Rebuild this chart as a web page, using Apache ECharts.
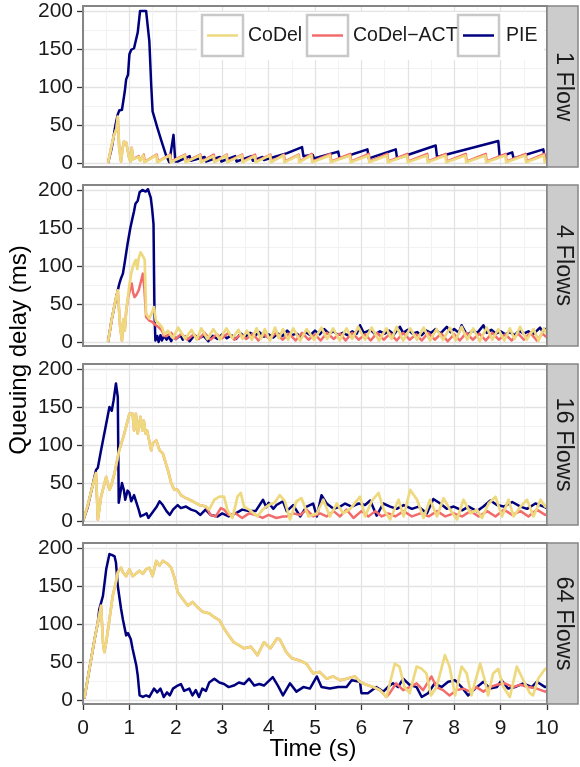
<!DOCTYPE html>
<html>
<head>
<meta charset="utf-8">
<script src="https://cdn.jsdelivr.net/npm/echarts@6/dist/echarts.min.js"></script>
<style>
  html, body { margin: 0; padding: 0; background: #fff; }
  #chart { width: 580px; height: 767px; }
</style>
</head>
<body>
<div id="chart"></div>
<script>
// queuing delay (ms) over time (s): [t, delay]
var facetLabels = ['1 Flow', '4 Flows', '16 Flows', '64 Flows'];
var yTicks = [0, 50, 100, 150, 200];
var xTicks = [0, 1, 2, 3, 4, 5, 6, 7, 8, 9, 10];

// --- 1 flow
var pie1 = [[0.54,0],[0.62,20],[0.7,50],[0.75,64],[0.78,69],[0.84,70],[0.9,94],[0.93,110],[0.97,116],[1.0,143],[1.04,149],[1.1,151],[1.13,151],[1.18,172],[1.23,200],[1.3,200],[1.36,200],[1.4,200],[1.43,160],[1.47,103],[1.5,68],[1.6,47],[1.7,27],[1.79,10],[1.86,1],[1.9,3],[1.95,37],[1.99,2],
  [2.05,2],[2.3,9],[2.32,3],[2.62,8],[2.65,2],[2.95,8],[2.98,2],[3.28,9],[3.31,2],[3.63,9],[3.66,3],[3.87,8],[3.9,4],[4.4,13],[4.72,21],[4.75,9],[4.95,11],[4.98,6],
  [5.5,15],[5.53,6],[6.13,18],[6.16,6],[6.74,18],[6.77,6],[7.6,23],[7.63,8],[8.95,29],[8.98,8],[9.25,14],[9.28,6],[9.92,18],[9.95,7],[10,7]];
var codel1 = [[0.54,0],[0.6,18],[0.66,35],[0.72,45],[0.75,61],[0.78,20],[0.82,2],[0.85,18],[0.88,28],[0.93,27],[0.97,26],[1.0,5],[1.03,2],[1.05,20],[1.08,5],[1.12,3],[1.2,8],[1.23,3],[1.3,10],
  [1.32,1],[1.58,10],[1.6,1],[1.87,10],[1.89,1],[2.19,10],[2.21,1],[2.52,10],[2.54,1],[2.81,9],[2.83,1],[3.09,10],[3.11,1],[3.42,10],[3.44,1],[3.7,9],[3.72,1],[4.03,10],[4.05,1],[4.32,10],[4.34,1],[4.64,10],[4.66,1],
  [4.92,10],[4.94,1],[5.32,10],[5.34,1],[5.75,10],[5.77,1],[6.15,10],[6.17,1],[6.55,10],[6.57,1],[6.98,10],[7.0,1],[7.41,10],[7.43,1],[7.81,10],[7.83,1],[8.24,10],[8.26,1],[8.67,10],[8.69,1],[9.1,10],[9.12,1],[9.53,10],[9.55,1],[9.93,10],[9.95,1],[10,2]];
var act1 = [[0.54,0],[0.6,18],[0.66,35],[0.72,45],[0.75,61],[0.78,20],[0.82,2],[0.85,18],[0.88,28],[0.93,27],[0.97,26],[1.0,5],[1.03,2],[1.05,20],[1.08,5],[1.12,3],[1.2,9],[1.23,3],[1.31,11],
  [1.33,2],[1.59,11],[1.61,2],[1.88,11],[1.9,2],[2.2,11],[2.22,2],[2.53,11],[2.55,2],[2.82,11],[2.84,2],[3.1,11],[3.12,2],[3.43,11],[3.45,2],[3.71,11],[3.73,2],[4.04,11],[4.06,2],[4.33,11],[4.35,2],[4.65,11],[4.67,2],
  [4.93,12],[4.95,2],[5.33,12],[5.35,2],[5.76,12],[5.78,2],[6.16,12],[6.18,2],[6.56,12],[6.58,2],[6.99,12],[7.01,2],[7.42,12],[7.44,2],[7.82,12],[7.84,2],[8.25,12],[8.27,2],[8.68,12],[8.7,2],[9.11,12],[9.13,2],[9.54,12],[9.56,2],[9.94,12],[9.96,2],[10,3]];

// --- 4 flows
var pie2 = [[0.54,0],[0.62,30],[0.72,60],[0.78,76],[0.82,84],[0.86,90],[0.9,105],[0.96,129],[1.02,150],[1.07,164],[1.1,172],[1.13,182],[1.18,186],[1.22,197],[1.28,200],[1.35,198],[1.4,201],[1.43,200],[1.46,190],[1.49,175],[1.52,155],[1.54,40],[1.56,2],
  [1.6,8],[1.63,0],[1.67,9],[1.7,2],[1.75,8],[1.8,3],[1.85,7],[1.9,1],[1.95,8],[2.0,4],[2.1,9],[2.15,3],[2.2,7],[2.3,1],[2.4,9],[2.5,5],[2.6,8],[2.7,1],[2.8,8],[2.9,4],[3.0,10],[3.1,5],[3.2,9],[3.3,4],[3.4,11],[3.5,7],[3.6,12],[3.7,8],[3.8,13],[3.9,7],[4.0,10],[4.1,6],[4.2,11],[4.3,8],[4.4,15],[4.5,9],[4.6,11],[4.7,7],[4.8,13],[4.9,9],
  [5.0,15],[5.1,10],[5.2,17],[5.3,11],[5.4,14],[5.5,9],[5.6,12],[5.7,9],[5.8,14],[5.9,11],[5.97,22],[6.05,12],[6.2,16],[6.3,10],[6.4,14],[6.5,11],[6.6,15],[6.7,10],[6.83,20],[6.9,12],[7.0,16],[7.1,11],[7.2,13],[7.3,9],[7.4,15],[7.5,12],[7.6,17],[7.7,11],[7.84,20],[7.92,13],[8.0,17],[8.1,12],[8.16,22],[8.25,12],[8.3,10],[8.4,15],[8.5,12],[8.63,22],[8.7,12],[8.8,16],[8.9,11],[9.0,14],[9.1,10],[9.2,13],[9.3,9],[9.4,15],[9.5,11],[9.6,14],[9.7,10],[9.85,19],[9.9,14],[10,18]];
var codel2 = [[0.54,0],[0.62,30],[0.7,55],[0.75,68],[0.8,20],[0.84,2],[0.87,30],[0.9,15],[0.93,40],[0.97,60],[1.0,75],[1.04,90],[1.08,100],[1.11,105],[1.14,108],[1.17,96],[1.2,110],[1.24,118],[1.27,120],[1.3,112],[1.33,108],[1.36,37],[1.43,31],[1.48,38],[1.53,46],[1.57,28],[1.64,24],[1.7,20],[1.75,10],
  [1.83,15],[1.94,5],[2.05,19],[2.2,4],[2.34,16],[2.45,3],[2.55,18],[2.68,4],[2.81,17],[2.95,3],[3.09,18],[3.22,5],[3.35,16],[3.44,4],[3.53,15],[3.64,3],[3.74,18],[3.83,4],[3.92,17],[4.03,2],[4.14,19],[4.22,5],[4.31,17],[4.42,3],[4.53,18],[4.68,2],[4.82,17],[4.98,3],
  [5.14,19],[5.26,4],[5.39,18],[5.53,2],[5.68,18],[5.8,4],[5.93,20],[6.08,3],[6.22,19],[6.38,2],[6.54,18],[6.65,4],[6.76,20],[6.9,2],[7.05,18],[7.2,3],[7.34,19],[7.48,2],[7.62,17],[7.76,3],[7.91,19],[8.03,2],[8.16,20],[8.28,3],[8.41,18],[8.55,1],[8.7,19],[8.82,3],[8.95,17],[9.08,2],[9.2,18],[9.3,4],[9.42,20],[9.56,3],[9.71,17],[9.82,2],[9.93,18],[10,10]];
var act2 = [[0.54,0],[0.62,30],[0.7,55],[0.75,68],[0.8,20],[0.84,2],[0.87,30],[0.9,15],[0.93,40],[0.97,58],[1.02,70],[1.05,77],[1.08,65],[1.11,59],[1.15,62],[1.2,68],[1.25,80],[1.29,90],[1.32,72],[1.36,33],[1.43,28],[1.5,26],[1.57,22],[1.64,19],[1.7,15],[1.75,8],
  [1.8,8],[1.9,12],[2.0,4],[2.12,11],[2.25,3],[2.38,10],[2.5,4],[2.62,12],[2.75,3],[2.88,10],[3.0,5],[3.13,12],[3.26,3],[3.4,10],[3.52,4],[3.66,11],[3.78,2],[3.9,10],[4.02,4],[4.16,12],[4.3,3],[4.44,11],[4.58,2],[4.72,12],[4.86,3],[5.0,10],[5.12,2],[5.26,12],[5.4,4],[5.54,11],[5.66,2],[5.8,12],[5.94,3],
  [6.08,10],[6.2,2],[6.34,12],[6.48,3],[6.62,11],[6.76,2],[6.9,12],[7.04,3],[7.18,10],[7.3,2],[7.44,12],[7.58,3],[7.72,11],[7.86,1],[8.0,10],[8.12,2],[8.26,12],[8.4,3],[8.54,11],[8.68,2],[8.82,12],[8.96,3],[9.1,10],[9.24,2],[9.38,11],[9.5,3],[9.64,12],[9.78,2],[9.9,11],[10,6]];

// --- 16 flows
var pie3 = [[0.0,0],[0.1,18],[0.2,45],[0.28,67],[0.32,70],[0.38,90],[0.43,106],[0.5,128],[0.57,150],[0.62,145],[0.66,159],[0.71,181],[0.75,163],[0.77,24],[0.8,35],[0.84,50],[0.88,41],[0.91,28],[0.96,40],[1.0,37],[1.04,26],[1.07,28],[1.1,34],[1.14,32],[1.2,15],[1.24,6],[1.31,8],[1.37,10],[1.41,4],[1.45,6],[1.52,13],[1.58,18],[1.65,26],[1.72,21],[1.8,13],[1.87,8],[1.94,15],[2.04,21],[2.11,17],[2.22,19],[2.33,15],[2.43,13],[2.53,8],[2.64,15],[2.75,8],[2.9,6],[3.0,10],[3.14,6],[3.29,10],[3.43,15],[3.58,13],[3.72,13],[3.88,28],[3.95,18],[4.0,24],[4.1,16],[4.17,21],[4.31,26],
  [4.39,13],[4.53,21],[4.68,6],[4.82,19],[4.96,23],[5.04,6],[5.14,34],[5.25,23],[5.4,16],[5.54,19],[5.65,23],[5.79,19],[5.94,23],[6.08,21],[6.19,27],[6.33,7],[6.47,23],[6.62,19],[6.76,16],[6.91,21],[7.09,16],[7.23,19],[7.41,10],[7.55,29],[7.7,23],[7.84,16],[7.99,19],[8.17,14],[8.31,19],[8.49,13],[8.63,19],[8.78,27],[8.92,21],[9.07,19],[9.25,25],[9.43,19],[9.57,16],[9.75,23],[9.93,19],[10,17]];
var codel3 = [[0.0,0],[0.1,20],[0.2,45],[0.28,63],[0.32,2],[0.39,32],[0.5,58],[0.53,50],[0.57,41],[0.6,45],[0.68,63],[0.78,93],[0.89,115],[1.0,141],[1.07,141],[1.1,119],[1.14,141],[1.18,115],[1.24,137],[1.28,119],[1.31,132],[1.35,115],[1.38,119],[1.47,93],[1.5,102],[1.58,106],[1.65,93],[1.72,89],[1.83,67],[1.9,50],[1.97,41],[2.04,41],[2.11,34],[2.22,30],[2.36,26],[2.51,21],[2.65,19],[2.72,15],
  [2.83,28],[2.94,32],[3.04,32],[3.11,15],[3.22,4],[3.33,32],[3.4,37],[3.47,19],[3.58,15],[3.76,6],[3.87,15],[4.0,21],[4.13,24],[4.24,34],[4.35,26],[4.46,2],[4.6,26],[4.71,30],[4.86,6],[5.04,10],[5.18,28],[5.32,6],[5.47,23],[5.61,10],[5.76,16],[5.97,32],[6.08,6],[6.22,26],[6.37,37],[6.48,15],[6.62,2],[6.8,28],[6.91,6],
  [7.05,41],[7.2,28],[7.34,4],[7.48,28],[7.63,6],[7.77,30],[7.91,15],[8.06,2],[8.2,28],[8.35,10],[8.49,15],[8.6,4],[8.74,23],[8.89,32],[9.03,6],[9.17,28],[9.28,6],[9.43,19],[9.57,28],[9.71,6],[9.86,28],[9.96,19],[10,22]];
var act3 = [[0.0,0],[0.1,20],[0.2,45],[0.28,63],[0.32,2],[0.39,32],[0.5,58],[0.53,50],[0.57,41],[0.6,45],[0.68,63],[0.78,93],[0.89,115],[1.0,141],[1.07,141],[1.1,119],[1.14,141],[1.18,115],[1.24,137],[1.28,119],[1.31,132],[1.35,115],[1.38,119],[1.47,93],[1.5,102],[1.58,106],[1.65,93],[1.72,89],[1.83,67],[1.9,50],[1.97,41],[2.04,41],[2.11,34],[2.22,30],[2.36,26],[2.51,21],[2.65,19],
  [2.75,8],[2.86,6],[2.97,17],[3.04,15],[3.14,8],[3.29,10],[3.43,4],[3.58,10],[3.72,8],[3.87,4],[4.0,8],[4.17,4],[4.31,6],[4.39,6],[4.53,10],[4.68,8],[4.82,15],[4.96,6],[5.11,10],[5.25,6],[5.4,13],[5.54,6],[5.68,15],[5.83,4],[6.0,13],[6.15,6],[6.3,13],[6.44,6],[6.58,10],[6.73,6],[6.91,13],
  [7.09,6],[7.27,10],[7.45,6],[7.63,13],[7.81,6],[7.99,10],[8.17,6],[8.35,13],[8.53,6],[8.71,13],[8.89,6],[9.07,15],[9.25,8],[9.43,13],[9.6,6],[9.78,15],[9.96,8],[10,9]];

// --- 64 flows
var pie4 = [[0.03,2],[0.15,45],[0.25,80],[0.32,102],[0.35,119],[0.43,137],[0.5,172],[0.57,192],[0.62,191],[0.68,189],[0.71,181],[0.75,150],[0.82,120],[0.86,106],[0.93,85],[0.97,88],[1.0,87],[1.03,80],[1.07,67],[1.15,45],[1.18,32],[1.22,6],[1.29,4],[1.36,6],[1.43,4],[1.53,15],[1.6,10],[1.67,15],[1.74,4],[1.81,10],[1.87,6],[1.94,15],[2.04,19],[2.11,21],[2.18,12],[2.29,15],[2.36,6],[2.43,13],[2.5,4],[2.57,15],[2.65,12],[2.72,23],[2.83,28],[2.94,23],[3.04,21],[3.14,17],[3.25,19],[3.36,23],[3.47,21],[3.58,28],[3.69,19],[3.8,21],[3.9,19],[4.09,30],[4.2,19],[4.31,6],
  [4.46,22],[4.6,11],[4.75,17],[4.89,15],[5.04,31],[5.14,17],[5.32,15],[5.5,17],[5.68,17],[5.79,26],[5.97,24],[6.0,9],[6.14,9],[6.32,17],[6.47,11],[6.57,17],[6.68,22],[6.79,17],[6.9,28],[7.04,20],[7.19,17],[7.3,4],[7.44,9],[7.58,22],[7.73,17],[7.87,24],[8.02,26],[8.16,17],[8.3,6],[8.45,15],[8.63,24],[8.77,15],[8.92,17],[9.02,26],[9.16,15],[9.31,17],[9.49,22],[9.67,17],[9.78,24],[9.96,17],[10,18]];
var codel4 = [[0.03,2],[0.15,45],[0.25,80],[0.32,102],[0.39,124],[0.43,76],[0.46,63],[0.5,76],[0.57,106],[0.64,137],[0.71,155],[0.75,168],[0.82,174],[0.86,168],[0.93,163],[1.0,172],[1.07,163],[1.14,166],[1.22,170],[1.29,166],[1.36,172],[1.43,174],[1.5,163],[1.58,183],[1.65,177],[1.72,183],[1.83,179],[1.9,174],[1.98,159],[2.04,142],[2.15,133],[2.26,124],[2.36,129],[2.47,122],[2.58,116],[2.72,114],[2.83,109],[2.94,105],[3.04,94],[3.14,85],[3.25,76],[3.36,72],[3.47,68],[3.62,70],[3.76,59],[3.9,76],[4.04,68],[4.18,81],[4.24,80],[4.38,63],[4.5,55],[4.67,52],[4.81,48],[4.96,35],[5.1,37],[5.25,28],[5.39,31],[5.54,26],[5.68,28],[5.86,31],[5.97,24],[6.11,20],[6.26,17],[6.4,13],[6.54,4],
  [6.72,48],[6.82,44],[6.93,17],[7.04,9],[7.19,44],[7.3,41],[7.4,35],[7.5,6],[7.62,17],[7.8,59],[7.9,44],[8.02,6],[8.16,44],[8.27,35],[8.37,6],[8.56,48],[8.66,26],[8.73,6],[8.84,35],[8.95,41],[9.06,17],[9.2,4],[9.35,44],[9.49,26],[9.63,9],[9.7,6],[9.81,28],[9.96,41],[10,40]];
var act4tail = [[6.61,9],[6.75,22],[6.9,13],[7.04,17],[7.19,22],[7.33,13],[7.51,31],[7.62,17],[7.76,13],[7.9,6],[8.05,13],[8.2,15],[8.34,11],[8.48,17],[8.63,11],[8.77,17],[8.92,20],[9.09,22],[9.27,17],[9.42,20],[9.6,17],[9.78,15],[9.96,11],[10,12]];
var act4 = codel4.filter(function (p) { return p[0] <= 6.54; })
    .map(function (p) { return [p[0], p[1]]; })
    .concat(act4tail);

var seriesNames = ['CoDel', 'CoDel\u2212ACT', 'PIE'];
var seriesColors = ['#EED97F', '#F36C6C', '#00007F'];
var seriesWidths = [2.7, 2.5, 2.5];

var facetData = [
  [codel1, act1, pie1],
  [codel2, act2, pie2],
  [codel3, act3, pie3],
  [codel4, act4, pie4]
];

var FONT = '"Liberation Sans", Arial, sans-serif';
var panelTop = [6, 185, 364, 543];
var panelH = 161, panelL = 83, panelW = 464;

function majorLine() { return { color: '#E3E3E3', width: 1.3 }; }
function minorLine() { return { color: '#F2F2F2', width: 1 }; }

var myChart = echarts.init(document.getElementById('chart'));

var grids = [], xAxes = [], yAxes = [], series = [], graphics = [];

for (var p = 0; p < 4; p++) {
    var pTop = panelTop[p];
    var isBottom = (p === 3);
    // outer grid: full panel, vertical grid lines + x axis
    grids.push({ left: panelL, top: pTop, width: panelW, height: panelH });
    // inner grid: the 0..200 band, horizontal grid lines + y axis
    grids.push({ left: panelL, top: pTop + 5, width: panelW, height: 152 });

    xAxes.push({
        gridIndex: 2 * p, type: 'value', min: xTicks[0], max: xTicks[xTicks.length - 1], interval: 1,
        axisLine: { show: false },
        axisTick: { show: isBottom, length: 6, lineStyle: { color: '#333', width: 1.3 } },
        axisLabel: { show: isBottom, fontSize: 21, color: '#1a1a1a', margin: 14, fontFamily: FONT },
        splitLine: { show: true, lineStyle: majorLine() },
        minorTick: { show: false, splitNumber: 2 },
        minorSplitLine: { show: true, lineStyle: minorLine() }
    });
    xAxes.push({ gridIndex: 2 * p + 1, type: 'value', min: 0, max: 10, show: false });

    yAxes.push({ gridIndex: 2 * p, type: 'value', min: 0, max: 1, show: false });
    yAxes.push({
        gridIndex: 2 * p + 1, type: 'value', min: yTicks[0], max: yTicks[yTicks.length - 1], interval: 50,
        axisLine: { show: false },
        axisTick: { show: true, length: 6, lineStyle: { color: '#333', width: 1.3 } },
        axisLabel: { fontSize: 21, color: '#1a1a1a', margin: 10, fontFamily: FONT },
        splitLine: { show: true, lineStyle: majorLine() },
        minorTick: { show: false, splitNumber: 2 },
        minorSplitLine: { show: true, lineStyle: minorLine() }
    });

    // PIE first, then CoDel-ACT, CoDel on top
    for (var j = 2; j >= 0; j--) {
        series.push({
            name: seriesNames[j], type: 'line',
            xAxisIndex: 2 * p + 1, yAxisIndex: 2 * p + 1,
            data: facetData[p][j],
            symbol: 'none', showSymbol: false, clip: false,
            lineStyle: { color: seriesColors[j], width: seriesWidths[j], join: 'round' },
            z: 5 - j
        });
    }

    // panel border
    graphics.push({ type: 'rect', z: 100, shape: { x: panelL, y: pTop, width: panelW, height: panelH },
        style: { fill: 'none', stroke: '#858585', lineWidth: 2 } });
    // facet strip
    graphics.push({ type: 'rect', z: 100, shape: { x: panelL + panelW, y: pTop, width: 31, height: panelH },
        style: { fill: '#CCCCCC', stroke: '#858585', lineWidth: 1.5 } });
    graphics.push({ type: 'text', z: 101, x: panelL + panelW + 16, y: pTop + panelH / 2, rotation: -Math.PI / 2,
        style: { text: facetLabels[p], font: '23.5px ' + FONT, fill: '#1a1a1a', align: 'center', verticalAlign: 'middle' } });
}

// legend (inside the first panel)
graphics.push({ type: 'rect', z: 60, shape: { x: 197, y: 12, width: 347, height: 48 }, style: { fill: '#fff' } });
var keyX = [202, 307, 458], textX = [248, 353, 506];
for (var k = 0; k < 3; k++) {
    graphics.push({ type: 'rect', z: 61, shape: { x: keyX[k], y: 15, width: 41, height: 41 },
        style: { fill: '#fff', stroke: '#C8C8C8', lineWidth: 2.5 } });
    graphics.push({ type: 'line', z: 62, shape: { x1: keyX[k] + 5, y1: 35.5, x2: keyX[k] + 36, y2: 35.5 },
        style: { stroke: seriesColors[k], lineWidth: 2.5 } });
    graphics.push({ type: 'text', z: 62, x: textX[k], y: 36,
        style: { text: seriesNames[k], font: '19.5px ' + FONT, fill: '#1a1a1a', align: 'left', verticalAlign: 'middle' } });
}

// axis titles
graphics.push({ type: 'text', z: 50, x: 19, y: 350, rotation: Math.PI / 2,
    style: { text: 'Queuing delay (ms)', font: '24px ' + FONT, fill: '#000', align: 'center', verticalAlign: 'middle' } });
graphics.push({ type: 'text', z: 50, x: 313, y: 749,
    style: { text: 'Time (s)', font: '24px ' + FONT, fill: '#000', align: 'center', verticalAlign: 'middle' } });

myChart.setOption({
    animation: false,
    backgroundColor: '#fff',
    grid: grids,
    xAxis: xAxes,
    yAxis: yAxes,
    series: series,
    graphic: graphics
}, true);
</script>
</body>
</html>
